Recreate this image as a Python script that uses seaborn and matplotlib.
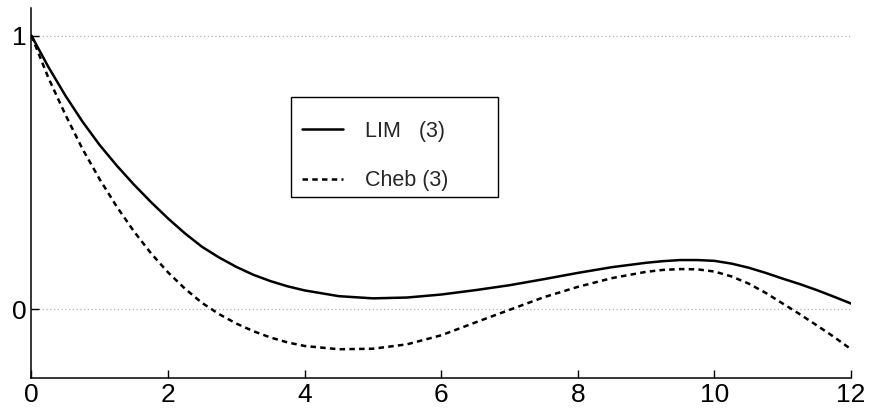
import matplotlib
matplotlib.use("Agg")
import matplotlib.pyplot as plt
import matplotlib.patches as mpatches
import pandas as pd
import seaborn as sns

# values
x_vals = [0, 0.25, 0.5, 0.75, 1, 1.25, 1.5, 1.75, 2, 2.25, 2.5, 2.75, 3,
          3.25, 3.5, 3.75, 4, 4.5, 5, 5.5, 6, 6.5, 7, 7.5, 8, 8.5, 9, 9.25,
          9.5, 9.75, 10, 10.25, 10.5, 10.75, 11, 11.25, 11.5, 11.75, 12]
lim_vals = [1.0, 0.885, 0.78, 0.685, 0.600, 0.525, 0.456, 0.392, 0.332, 0.277,
            0.228, 0.189, 0.155, 0.126, 0.103, 0.084, 0.069, 0.048, 0.040, 0.043,
            0.054, 0.070, 0.088, 0.110, 0.133, 0.154, 0.170, 0.176, 0.180, 0.180,
            0.177, 0.167, 0.152, 0.133, 0.112, 0.092, 0.070, 0.046, 0.021]
cheb_vals = [1.0, 0.845, 0.71, 0.585, 0.475, 0.375, 0.285, 0.205, 0.135, 0.075,
             0.023, -0.018, -0.052, -0.080, -0.103, -0.121, -0.134, -0.146, -0.144, -0.128,
             -0.095, -0.048, -0.002, 0.044, 0.082, 0.114, 0.137, 0.144, 0.147, 0.146,
             0.138, 0.120, 0.094, 0.060, 0.021, -0.018, -0.059, -0.101, -0.146]
labels = ["LIM   (3)", "Cheb (3)"]
x_ticks = [0, 2, 4, 6, 8, 10, 12]
y_ticks = [0, 1]

df = pd.DataFrame({"x": x_vals, "lim": lim_vals, "cheb": cheb_vals})

sns.set_theme(style="ticks")
plt.rcParams["font.family"] = ["Liberation Sans", "DejaVu Sans"]

fig = plt.figure(figsize=(8.72, 4.17), dpi=100)
ax = fig.add_axes([0.036, 0.0942, 0.940, 0.886])

# light dotted reference lines at 0 and 1
for yv in y_ticks:
    ax.axhline(yv, color="#b0b0b0", lw=0.9, ls=(0, (1, 2)), zorder=0)

sns.lineplot(data=df, x="x", y="lim", ax=ax, color="black", lw=1.8,
             label=labels[0])
sns.lineplot(data=df, x="x", y="cheb", ax=ax, color="black", lw=1.8,
             label=labels[1])
ax.lines[-1].set_dashes((2.2, 1.7))

ax.set_xlim(0, 12)
ax.set_ylim(-0.25, 1.1)
ax.set_xticks(x_ticks)
ax.set_yticks(y_ticks)
ax.set_xlabel("")
ax.set_ylabel("")
ax.tick_params(direction="in", length=5.5, width=1, pad=3.5,
               labelsize=19, colors="black")
for side in ["top", "right"]:
    ax.spines[side].set_visible(False)
for side in ["left", "bottom"]:
    ax.spines[side].set_color("black")
    ax.spines[side].set_linewidth(1.1)

leg = ax.legend(loc="center left", bbox_to_anchor=(0.330, 0.600),
                frameon=False, fontsize=15.5, handlelength=1.9,
                handletextpad=1.05, labelspacing=1.34, borderpad=0,
                borderaxespad=0)
leg.get_lines()[1].set_dashes((2.2, 1.7))

# legend frame (MATLAB style, extra room on top)
fig.patches.append(mpatches.Rectangle((291 / 872, 1 - 197 / 417),
                                      (498 - 291) / 872, 100 / 417,
                                      transform=fig.transFigure, fill=False,
                                      ec="black", lw=1.0))

fig.savefig("out.png", dpi=100)
